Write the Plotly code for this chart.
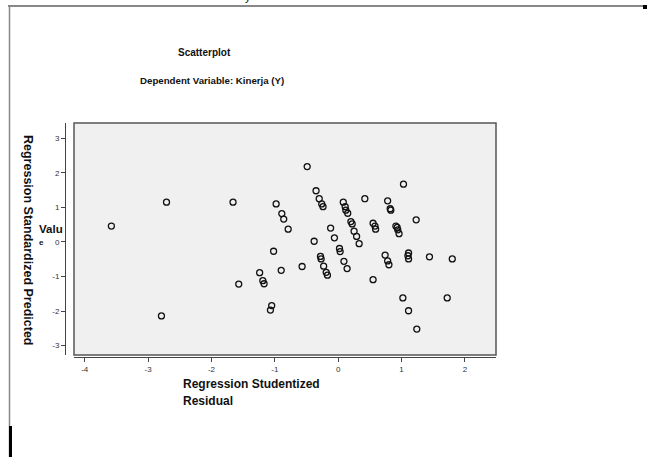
import plotly.graph_objects as go

# Regression Studentized Residual (x) vs Regression Standardized Predicted Value (y)
resid = [-3.58, -2.71, -1.66, -0.98, -0.89, -0.86, -0.79, -1.02, -1.24, -0.90,
         -1.19, -1.17, -1.57, -1.05, -1.07, -2.79, -0.49, -0.35, -0.30, -0.26,
         -0.24, 0.08, 0.11, 0.12, 0.15, 0.20, 0.22, 0.25, 0.29, 0.33,
         0.42, -0.12, -0.06, -0.38, 0.02, 0.03, 0.09, 0.14, -0.28, -0.27,
         -0.23, -0.19, -0.17, -0.57, 0.55, 0.58, 0.59, 0.55, 0.78, 0.82,
         0.83, 1.03, 0.91, 0.93, 0.94, 0.96, 0.74, 0.78, 0.80, 1.11,
         1.10, 1.11, 1.23, 1.44, 1.80, 1.02, 1.72, 1.11, 1.24]
pred = [0.46, 1.15, 1.15, 1.10, 0.82, 0.66, 0.37, -0.27, -0.89, -0.82,
        -1.12, -1.21, -1.22, -1.84, -1.97, -2.14, 2.18, 1.48, 1.25, 1.10,
        1.02, 1.15, 1.02, 0.92, 0.83, 0.59, 0.52, 0.31, 0.16, -0.05,
        1.25, 0.40, 0.12, 0.02, -0.19, -0.28, -0.56, -0.77, -0.42, -0.49,
        -0.70, -0.88, -0.96, -0.71, 0.54, 0.46, 0.37, -1.09, 1.19, 0.96,
        0.92, 1.67, 0.46, 0.42, 0.35, 0.24, -0.38, -0.55, -0.66, -0.32,
        -0.40, -0.49, 0.64, -0.43, -0.49, -1.62, -1.62, -1.99, -2.52]

x_ticks = [-4, -3, -2, -1, 0, 1, 2]
y_ticks = [-3, -2, -1, 0, 1, 2, 3]

W, H = 648, 457
FONT = "Liberation Sans, Arial, sans-serif"


def px(x):
    return x / W


def py(y):
    return 1 - y / H


fig = go.Figure()
fig.add_trace(go.Scatter(
    x=resid, y=pred, mode="markers",
    marker=dict(symbol="circle-open", size=6, color="#111",
                line=dict(width=1.3, color="#111")),
    showlegend=False, hoverinfo="x+y"))

axis_common = dict(
    showgrid=False, zeroline=False, showline=True, linecolor="#444",
    linewidth=1, ticks="outside", ticklen=4, tickcolor="#444",
    tickfont=dict(size=8, color="#333", family=FONT), tickmode="array",
)

fig.update_layout(
    width=W, height=H, autosize=False,
    margin=dict(l=0, r=0, t=0, b=0),
    paper_bgcolor="white", plot_bgcolor="#f0f0f0",
    font=dict(family=FONT, color="#111"),
    xaxis=dict(domain=[px(74), px(496)], range=[-4.17, 2.49],
               anchor="free", position=py(357),
               tickvals=x_ticks, ticktext=[str(v) for v in x_ticks],
               **axis_common),
    yaxis=dict(domain=[py(355), py(123)], range=[-3.27, 3.44],
               anchor="free", position=px(65),
               tickvals=y_ticks, ticktext=[str(v) for v in y_ticks],
               **axis_common),
)

shapes = [
    # plot box border
    dict(type="rect", xref="paper", yref="paper",
         x0=px(74), x1=px(496), y0=py(355), y1=py(123),
         line=dict(color="#555", width=1.5), fillcolor="rgba(0,0,0,0)"),
    # outer frame: top and left
    dict(type="line", xref="paper", yref="paper",
         x0=px(8), x1=px(645), y0=py(6), y1=py(6),
         line=dict(color="#888", width=2)),
    dict(type="line", xref="paper", yref="paper",
         x0=px(9.5), x1=px(9.5), y0=py(6), y1=py(457),
         line=dict(color="#888", width=1.5)),
    dict(type="line", xref="paper", yref="paper",
         x0=px(10.5), x1=px(10.5), y0=py(426), y1=py(457),
         line=dict(color="#000", width=3)),
    dict(type="rect", xref="paper", yref="paper",
         x0=px(643), x1=px(647), y0=py(9), y1=py(5),
         line=dict(color="#000", width=0), fillcolor="#000"),
]
fig.update_layout(shapes=shapes)

ann = [
    dict(text="<b>Scatterplot</b>", x=px(204), y=py(52), font=dict(size=10)),
    dict(text="<b>Dependent Variable: Kinerja (Y)</b>", x=px(212), y=py(80),
         font=dict(size=9.7)),
    dict(text="<b>Regression Standardized Predicted</b>", x=px(28), y=py(240),
         textangle=90, font=dict(size=12.5)),
    dict(text="<b>Valu</b>", x=px(51), y=py(229), font=dict(size=11.5)),
    dict(text="<b>e</b>", x=px(41), y=py(242), font=dict(size=8)),
    dict(text="<b>Regression Studentized</b>", x=px(251), y=py(384),
         font=dict(size=12)),
    dict(text="<b>Residual</b>", x=px(208), y=py(401), font=dict(size=12)),
    dict(text="y", x=px(248), y=py(-3), font=dict(size=11, color="#111")),
]
for a in ann:
    a.update(xref="paper", yref="paper", showarrow=False,
             xanchor="center", yanchor="middle")
fig.update_layout(annotations=ann)

fig.write_html("out.html",
               config={"displayModeBar": False},
               post_script="document.body.style.margin='0';"
                           "document.body.style.padding='0';"
                           "document.body.style.overflow='hidden';")
